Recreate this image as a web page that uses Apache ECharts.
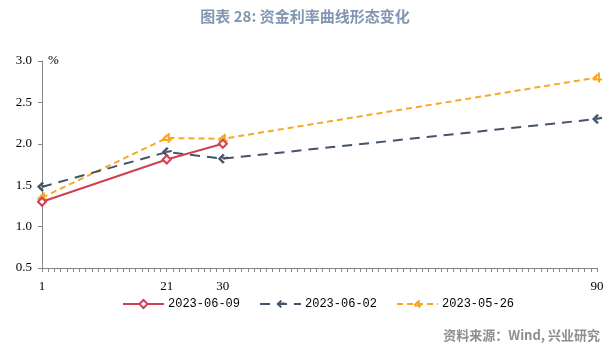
<!DOCTYPE html>
<html>
<head>
<meta charset="utf-8">
<script src="https://cdn.jsdelivr.net/npm/echarts@6/dist/echarts.min.js"></script>
<style>
  html, body { margin: 0; padding: 0; background: #ffffff; }
  #chart { width: 610px; height: 350px; }
</style>
</head>
<body>
<div id="chart"></div>
<script>
// Money-market rate curve: rate (%) by tenor (days) on three dates
const titleText = '图表 28: 资金利率曲线形态变化';
const sourceText = '资料来源：Wind, 兴业研究';
const tenors = [1, 21, 30, 90];
const tenorLabels = [1, 21, 30, 90];
const seriesNames = ['2023-06-09', '2023-06-02', '2023-05-26'];
const rates0609 = [1.30, 1.81, 2.00];
const rates0602 = [1.48, 1.90, 1.82, 2.30];
const rates0526 = [1.35, 2.07, 2.06, 2.80];

const RED = '#d0414f';
const NAVY = '#44546a';
const ORANGE = '#f9a825';

// hooked-arrow marker shapes
const arrowNavy = 'path://M0,5 L5,0 L7,1.5 L3.2,5 L7,8.5 L5,10 Z M4,3.8 L10,2.8 L10,5 L5,5.8 Z';
const arrowOrange = 'path://M0,6 L5,1 L6.8,2.4 L3.4,6 L10,6 L10,8 L1.5,8 Z M6,0 L8,0 L8,10 L6,10 Z';

function pairs(values) {
  return values.map((v, i) => [tenors[i], v]);
}

const chart = echarts.init(document.getElementById('chart'), null, { renderer: 'canvas' });

chart.setOption({
  animation: false,
  backgroundColor: '#ffffff',
  title: {
    text: titleText,
    left: 'center',
    top: 4,
    textStyle: {
      fontFamily: 'Noto Sans CJK SC',
      fontSize: 15,
      fontWeight: 'bold',
      color: '#8196b0'
    }
  },
  graphic: [{
    type: 'text',
    right: 10,
    top: 329,
    style: {
      text: sourceText,
      fontFamily: 'Noto Sans CJK SC',
      fontSize: 13,
      fontWeight: 'bold',
      fill: '#8e8e8e'
    }
  }],
  legend: {
    left: 122,
    top: 298,
    padding: 0,
    itemWidth: 41,
    itemHeight: 10,
    itemGap: 19,
    textStyle: {
      fontFamily: 'Liberation Mono',
      fontSize: 12,
      color: '#000000',
      padding: [0, 0, 0, -1]
    },
    data: seriesNames
  },
  grid: { left: 42, right: 13, top: 61, bottom: 82, containLabel: false },
  xAxis: {
    type: 'value',
    min: 1,
    max: 90,
    interval: 1,
    axisLine: { show: true, lineStyle: { color: '#868686', width: 1 } },
    axisTick: { show: true, length: 4, lineStyle: { color: '#868686' } },
    splitLine: { show: false },
    axisLabel: {
      margin: 12,
      showMinLabel: true,
      showMaxLabel: true,
      fontFamily: 'Liberation Serif',
      fontSize: 13,
      color: '#000000',
      formatter: v => (tenorLabels.includes(v) ? String(v) : '')
    }
  },
  yAxis: {
    type: 'value',
    min: 0.5,
    max: 3.0,
    interval: 0.5,
    name: '%',
    nameLocation: 'end',
    nameGap: 0,
    nameTextStyle: {
      fontFamily: 'Liberation Serif',
      fontSize: 13,
      color: '#000000',
      align: 'left',
      verticalAlign: 'middle',
      padding: [0, 0, 0, 6]
    },
    axisLine: { show: true, lineStyle: { color: '#868686', width: 1 } },
    axisTick: { show: true, length: 4, lineStyle: { color: '#868686' } },
    splitLine: { show: false },
    axisLabel: {
      margin: 10,
      fontFamily: 'Liberation Serif',
      fontSize: 13,
      color: '#000000',
      formatter: v => v.toFixed(1)
    }
  },
  series: [
    {
      name: seriesNames[0],
      type: 'line',
      data: pairs(rates0609),
      symbol: 'diamond',
      symbolSize: 8,
      lineStyle: { color: RED, width: 2 },
      itemStyle: { color: '#ffffff', borderColor: RED, borderWidth: 2 },
      z: 4
    },
    {
      name: seriesNames[1],
      type: 'line',
      data: pairs(rates0602),
      symbol: arrowNavy,
      symbolSize: 10,
      lineStyle: { color: NAVY, width: 2, type: [10, 7] },
      itemStyle: { color: NAVY, borderWidth: 0 },
      z: 3
    },
    {
      name: seriesNames[2],
      type: 'line',
      data: pairs(rates0526),
      symbol: arrowOrange,
      symbolSize: 10,
      lineStyle: { color: ORANGE, width: 2, type: [6, 4] },
      itemStyle: { color: ORANGE, borderWidth: 0 },
      z: 2
    }
  ]
});
</script>
</body>
</html>
